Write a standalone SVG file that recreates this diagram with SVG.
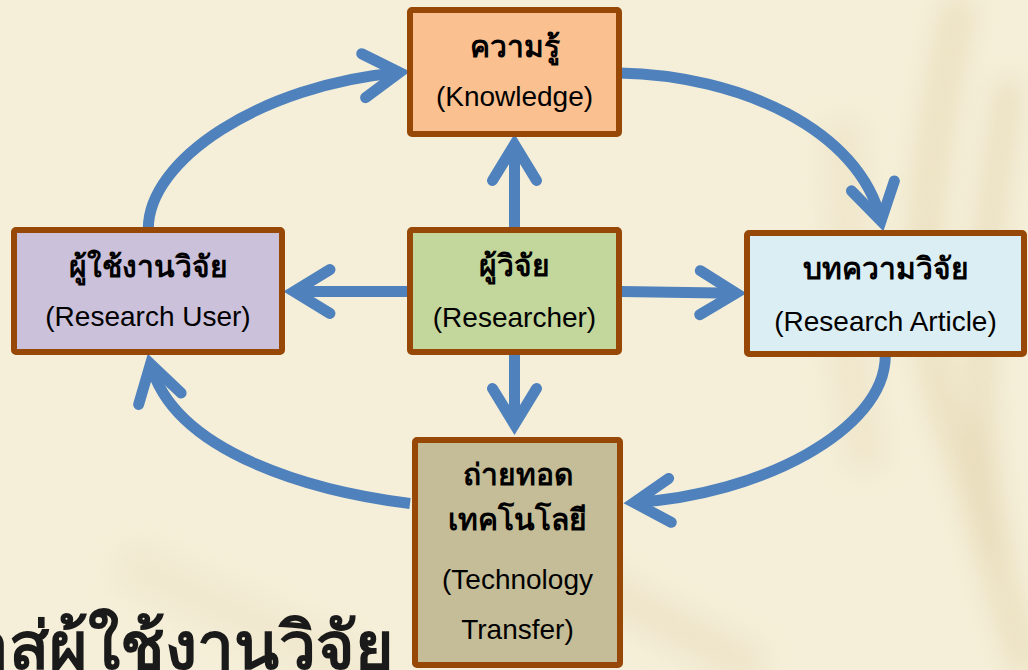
<svg xmlns="http://www.w3.org/2000/svg" width="1028" height="670" viewBox="0 0 1028 670">
  <defs>
    <filter id="blur" x="-50%" y="-50%" width="200%" height="200%">
      <feGaussianBlur stdDeviation="14"/>
    </filter>
    <marker id="ah" markerUnits="userSpaceOnUse" orient="auto" overflow="visible" markerWidth="10" markerHeight="10" refX="0" refY="0">
      <path d="M-36,-22 L0,0 L-36,22" fill="none" stroke="#4F81BD" stroke-width="11" stroke-linecap="round" stroke-linejoin="miter"/>
    </marker>
    <style>
      .box { stroke: #974806; stroke-width: 6; }
      .th { font-family: "Liberation Sans", "Noto Sans", "DejaVu Sans", sans-serif; font-weight: bold; font-size: 30px; fill: #000; text-anchor: middle; }
      .en { font-family: "Liberation Sans", Arial, sans-serif; font-size: 28px; fill: #000; text-anchor: middle; }
      .con { fill: none; stroke: #4F81BD; stroke-width: 11; stroke-linecap: butt; marker-end: url(#ah); }
      .title { font-family: "Liberation Sans", "Noto Sans", "DejaVu Sans", sans-serif; font-weight: bold; font-size: 66px; fill: #1a1a1a; text-anchor: end; }
    </style>
  </defs>

  <g id="background">
    <rect x="0" y="0" width="1028" height="670" fill="#F5EFD9"/>
    <g filter="url(#blur)" opacity="0.55">
      <path d="M960,0 C930,150 900,300 960,450 C990,540 1010,620 1028,670" fill="none" stroke="#E2D2A8" stroke-width="30"/>
      <path d="M1010,80 C990,220 960,380 1000,560" fill="none" stroke="#D9C697" stroke-width="18"/>
      <path d="M840,120 C860,240 830,330 870,470" fill="none" stroke="#EBDFC0" stroke-width="40"/>
      <path d="M560,560 C620,600 700,640 760,670" fill="none" stroke="#E8DCBC" stroke-width="40"/>
      <path d="M120,560 C200,600 300,640 360,670" fill="none" stroke="#EDE3C6" stroke-width="50"/>
    </g>
  </g>

  <text class="title" x="394" y="669">าสู่ผู้ใช้งานวิจัย</text>

  <g id="connectors">
    <path class="con" d="M514.5,227 L514.5,144.5"/>
    <path class="con" d="M514.5,355 L514.5,424.5"/>
    <path class="con" d="M408,291.5 L294,291.5"/>
    <path class="con" d="M621,291.5 L736,293.2"/>
    <path class="con" d="M148.3,229 C148,160 260,85 399.5,72.5"/>
    <path class="con" d="M619,73 C740,75 860,130 881,221"/>
    <path class="con" d="M885.3,356 C885,430 760,495 634,502.5"/>
    <path class="con" d="M410,503.5 C318,492 175,455 150.5,364"/>
  </g>

  <g id="knowledge">
    <rect class="box" x="410" y="10" width="209" height="124" rx="2" fill="#FAC090"/>
    <text class="th" x="514.5" y="57">ความรู้</text>
    <text class="en" x="514.5" y="106">(Knowledge)</text>
  </g>

  <g id="research-user">
    <rect class="box" x="14" y="230" width="268" height="122" rx="2" fill="#CCC1DA"/>
    <text class="th" x="148" y="277">ผู้ใช้งานวิจัย</text>
    <text class="en" x="148" y="326">(Research User)</text>
  </g>

  <g id="researcher">
    <rect class="box" x="410" y="230" width="209" height="122" rx="2" fill="#C3D69B"/>
    <text class="th" x="514.5" y="276">ผู้วิจัย</text>
    <text class="en" x="514.5" y="327">(Researcher)</text>
  </g>

  <g id="research-article">
    <rect class="box" x="747" y="233" width="277" height="121" rx="2" fill="#DBEEF4"/>
    <text class="th" x="885.5" y="279">บทความวิจัย</text>
    <text class="en" x="885.5" y="331">(Research Article)</text>
  </g>

  <g id="technology-transfer">
    <rect class="box" x="415" y="440" width="205" height="225" rx="2" fill="#C4BD97"/>
    <text class="th" x="517.5" y="485">ถ่ายทอด</text>
    <text class="th" x="517.5" y="530">เทคโนโลยี</text>
    <text class="en" x="517.5" y="589">(Technology</text>
    <text class="en" x="517.5" y="639">Transfer)</text>
  </g>
</svg>
